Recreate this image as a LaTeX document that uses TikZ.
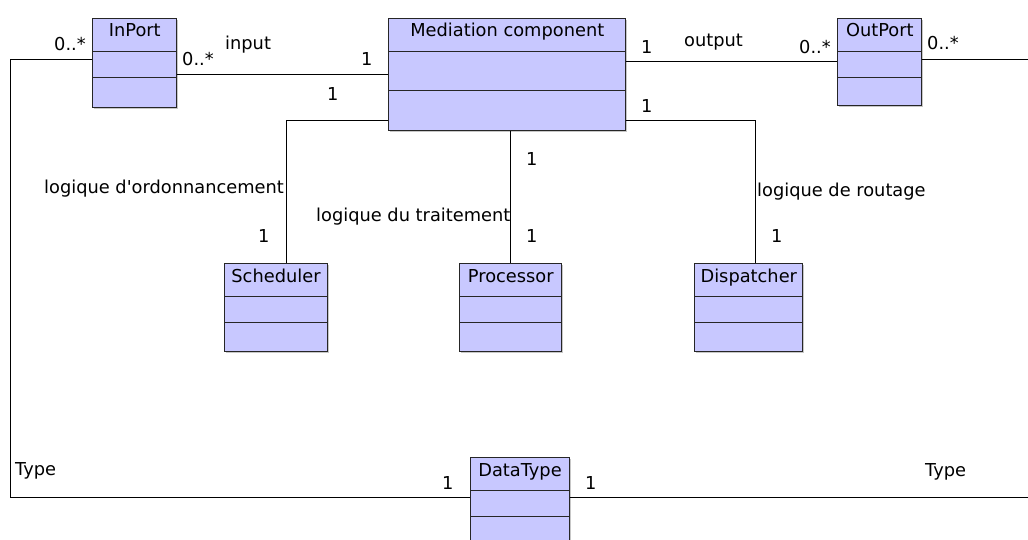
\documentclass[tikz,border=0pt]{standalone}
\usepackage{fontspec}
\setmainfont{DejaVu Sans}[Ligatures=TeXOff]
\usetikzlibrary{shadows}
\definecolor{clsfill}{RGB}{200,200,255}
\newcommand\classbox[9]{%
  \node[clsbox, minimum width=#4pt, minimum height=#5pt] (#1) at (#2,#3) {};
  \draw[clsline] ([yshift=-#6pt]#1.north west) -- ([yshift=-#6pt]#1.north east)
                 ([yshift=-#7pt]#1.north west) -- ([yshift=-#7pt]#1.north east);
  \node[ttl] (#1-t) at ([yshift=-#9pt]#1.north) {#8};
}
\begin{document}
\begin{tikzpicture}[x=1pt,y=-1pt,
  clsbox/.style={draw=black!85, line width=1pt, fill=clsfill, inner sep=0pt, anchor=north west,
    drop shadow={shadow xshift=1.5pt, shadow yshift=-1.5pt, fill=black!22, opacity=1}},
  clsline/.style={draw=black!85, line width=0.9pt},
  lbl/.style={font=\fontsize{17.8}{20}\selectfont, inner sep=0pt, anchor=base west},
  ttl/.style={font=\fontsize{17.8}{20}\selectfont, inner sep=0pt, anchor=base},
  con/.style={line width=1pt}]
\useasboundingbox (0,0) rectangle (1028,539);
% classes
\classbox{inport}{92.3}{18.3}{84}{88.4}{32.7}{59.4}{InPort}{18.4}
\classbox{mc}{388.3}{18.3}{237}{111.7}{33.4}{72}{Mediation component}{18.4}
\classbox{outport}{837.3}{18.3}{84}{86.7}{32.7}{59.4}{OutPort}{18}
\classbox{scheduler}{224.3}{263.3}{102.4}{87.4}{32.7}{59.4}{Scheduler}{19.4}
\classbox{processor}{459.3}{263.3}{102}{87.4}{32.7}{59.4}{Processor}{19.4}
\classbox{dispatcher}{694.3}{263.3}{108}{87.4}{32.7}{59.4}{Dispatcher}{19.4}
\classbox{datatype}{470}{457.3}{99}{100}{32.7}{59.4}{DataType}{18.7}
% connectors
\coordinate (inA) at ([yshift=-56.2pt]inport.north east);
\draw[con] (inA) -- (inA -| mc.west);
\coordinate (outA) at ([yshift=-43.4pt]mc.north east);
\draw[con] (outA) -- (outA -| outport.west);
\coordinate (schA) at ([yshift=-102.4pt]mc.north west);
\draw[con] (schA) -| ([xshift=10.2pt]scheduler.north);
\draw[con] (processor.north |- mc.south) -- (processor.north);
\coordinate (disA) at ([yshift=-102.4pt]mc.north east);
\draw[con] (disA) -| ([xshift=7pt]dispatcher.north);
\coordinate (inB) at ([yshift=-41pt]inport.north west);
\coordinate (dtL) at ([yshift=-40.4pt]datatype.north west);
\coordinate (lcorner) at (10.7,0);
\draw[con] (inB) -| (lcorner |- dtL) -- (dtL);
\coordinate (outB) at ([yshift=-41pt]outport.north east);
\coordinate (dtR) at ([yshift=-40.4pt]datatype.north east);
\coordinate (rcorner) at (1031,0);
\draw[con] (outB) -| (rcorner |- dtR) -- (dtR);
% labels
\node[lbl] (l1) at (54,50.7) {0..*};
\node[lbl] (l2) at (182,65) {0..*};
\node[lbl] (l3) at (225,49.5) {input};
\node[lbl] (l4) at (361,65.7) {1};
\node[lbl] (l5) at (327,100) {1};
\node[lbl] (l6) at (641,53.3) {1};
\node[lbl] (l7) at (684,46.7) {output};
\node[lbl] (l8) at (799,53.3) {0..*};
\node[lbl] (l9) at (927,49.3) {0..*};
\node[lbl] (l10) at (641,112.3) {1};
\node[lbl] (l11) at (44,193) {logique d'ordonnancement};
\node[lbl] (l12) at (258,242.7) {1};
\node[lbl] (l13) at (316,221) {logique du traitement};
\node[lbl] (l14) at (526,165) {1};
\node[lbl] (l15) at (526,242.3) {1};
\node[lbl] (l16) at (757,196.7) {logique de routage};
\node[lbl] (l17) at (771,242.3) {1};
\node[lbl] (l18) at (15,475) {Type};
\node[lbl] (l19) at (442,489.3) {1};
\node[lbl] (l20) at (585,489.3) {1};
\node[lbl] (l21) at (925,476) {Type};
\end{tikzpicture}
\end{document}
